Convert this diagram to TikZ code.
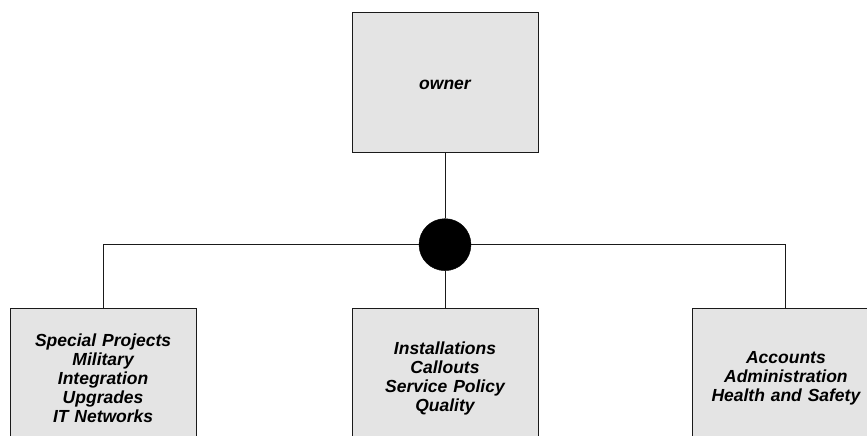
\documentclass[tikz,border=0pt]{standalone}
\usepackage{fontspec}
\setmainfont{Liberation Sans}
\usepackage{tikz}
\usetikzlibrary{positioning}
\usepackage{xcolor}
\definecolor{boxgray}{HTML}{E4E4E4}
\definecolor{edgegray}{HTML}{1A1A1A}

\tikzset{
    deptbox/.style={draw=edgegray, fill=boxgray, line width=0.9pt, text width=180pt, minimum width=186pt, minimum height=140pt, inner sep=3pt, align=center, font=\fontsize{17.5}{19}\selectfont\bfseries\itshape},
    hubdot/.style={circle, fill=black, draw=black, minimum size=52pt, inner sep=0pt},
    link/.style={draw=edgegray, line width=1pt}
}

\begin{document}
\begin{tikzpicture}[x=1pt, y=-1pt]
    \useasboundingbox (0,0) rectangle (867,436);
    \clip (0,0) rectangle (867,436);

    % top of the chart
    \node[deptbox] (owner) at (445,82) {\raisebox{-7pt}[0pt][0pt]{owner}};
    \node[hubdot, below=66pt of owner] (hub) {};

    % the three departments
    \node[deptbox, below=37pt of hub] (service) {Installations\\Callouts\\Service Policy\\Quality};
    \node[deptbox, left=155pt of service] (projects) {Special Projects\\Military\\Integration\\Upgrades\\IT Networks};
    \node[deptbox, right=154pt of service] (office) {Accounts\\Administration\\Health and Safety};

    % connectors
    \draw[link] (owner) -- (hub);
    \draw[link] (hub) -- (service);
    \draw[link] (hub) -| (projects);
    \draw[link] (hub) -| (office);
\end{tikzpicture}
\end{document}
